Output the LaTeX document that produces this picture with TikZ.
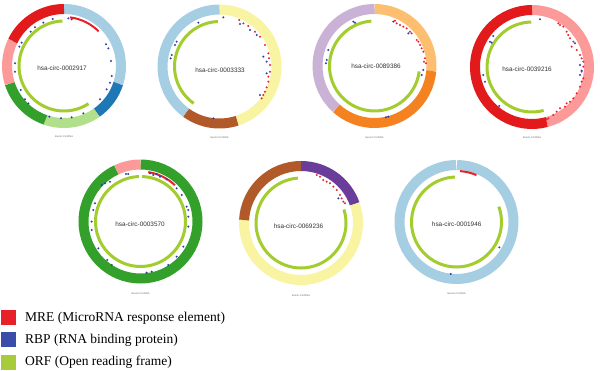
\documentclass[tikz,border=0pt]{standalone}
\usepackage{fontspec}
\setmainfont{Liberation Serif}
\newfontfamily\lsans{Liberation Sans}
\definecolor{lblue}{HTML}{A6CEE3}
\definecolor{dblue}{HTML}{1F78B4}
\definecolor{lgreen}{HTML}{B2DF8A}
\definecolor{dgreen}{HTML}{33A02C}
\definecolor{pinkc}{HTML}{FB9A99}
\definecolor{redc}{HTML}{E31A1C}
\definecolor{lorange}{HTML}{FDBF6F}
\definecolor{orangec}{HTML}{F58220}
\definecolor{lavender}{HTML}{CAB2D6}
\definecolor{purplec}{HTML}{6A3D9A}
\definecolor{yellowc}{HTML}{F8F4A2}
\definecolor{brownc}{HTML}{B15928}
\definecolor{orfc}{HTML}{A3CC2E}
\definecolor{mrec}{HTML}{E8202A}
\definecolor{rbpc}{HTML}{2B3DAE}
\definecolor{legred}{HTML}{E8202A}
\definecolor{legblue}{HTML}{3A4DA8}
\definecolor{leggreen}{HTML}{A6CB3B}
\newcommand\rseg[5]{\draw[ringseg,#5] (#1,#2) ++(#3:57) arc[start angle=#3,end angle=#4,radius=57];}
\newcommand\orfarc[4]{\draw[orf] (#1,#2) ++(#3:45) arc[start angle=#3,end angle=#4,radius=45];}
\newcommand\mrearc[5]{\draw[mre] (#1,#2) ++(#3:#5) arc[start angle=#3,end angle=#4,radius=#5];}
\newcommand\pdots[4]{\foreach \a/\b in {#4} \fill[#1] ({#2+\a/3},{#3+\b/3}) circle (1.15);}
\begin{document}
\begin{tikzpicture}[x=1pt,y=-1pt,
  ringseg/.style={line width=10pt},
  orf/.style={line width=3pt,draw=orfc},
  mre/.style={line width=2pt,draw=mrec},
  lbl/.style={font=\lsans\fontsize{6.4}{7}\selectfont,text=black!80,inner sep=0pt},
  sublbl/.style={font=\lsans\fontsize{2.5}{3}\selectfont,text=black!60,inner sep=0pt},
  legbox/.style={minimum width=15pt,minimum height=15pt,inner sep=0pt,anchor=west},
  legtxt/.style={font=\fontsize{13.5}{16}\selectfont,anchor=west,inner sep=0pt}]
\useasboundingbox (0,0) rectangle (600,371);
\fill[white] (0,0) rectangle (600,371);
% circle 1
\rseg{64}{66}{-90}{18}{lblue}
\rseg{64}{66}{18}{55}{dblue}
\rseg{64}{66}{55}{109}{lgreen}
\rseg{64}{66}{109}{162}{dgreen}
\rseg{64}{66}{162}{206}{pinkc}
\rseg{64}{66}{206}{270}{redc}
\orfarc{64}{66}{57}{268}
\mrearc{64}{66}{-83}{-45}{49}
\pdots{rbpc}{0}{0}{158/57,130/68,105/82,92/95,65/128,58/140,45/190,45/215,62/270,75/298,85/310,148/350,183/355,215/352,250/340,300/298,320/268,330/248,335/228,333/183,318/133,325/145,205/55,215/58}
\node[lbl] (c1) at (62,68) {hsa-circ-0002917};
\node[sublbl] (s1) at (64,137) {Exonic CircRNA};
% circle 2
\rseg{219.5}{66.5}{-90}{72}{yellowc}
\rseg{219.5}{66.5}{72}{126}{brownc}
\rseg{219.5}{66.5}{126}{270}{lblue}
\orfarc{219.5}{66.5}{125}{268}
\pdots{mrec}{150}{0}{268/60,280/70,295/78,315/95,330/110,345/135,355/160,357/175,360/195,360/215,355/230,355/245,350/262,345/275,340/285,335/295}
\pdots{rbpc}{150}{0}{220/52,145/68,270/72,300/90,320/105,350/185,350/220,330/285,80/125,75/135,65/165,62/175,190/355,340/170}
\node[lbl] (c2) at (220,70.5) {hsa-circ-0003333};
\node[sublbl] (s2) at (219.5,138) {Exonic CircRNA};
% circle 3
\rseg{374.5}{66}{-90}{5}{lorange}
\rseg{374.5}{66}{5}{132}{orangec}
\rseg{374.5}{66}{132}{270}{lavender}
\orfarc{374.5}{66}{7}{266}
\pdots{mrec}{300}{0}{285/62,290/70,300/75,310/80,320/85,330/95,335/100,350/120,355/125,360/135,365/145,370/155,375/175,372/185,378/190}
\pdots{rbpc}{300}{0}{165/68,160/65,280/65,325/100,370/210,365/225,85/150,80/180,78/190,258/352,265/350}
\node[lbl] (c3) at (376,66.7) {hsa-circ-0089386};
\node[sublbl] (s3) at (374.5,138) {Exonic CircRNA};
% circle 4
\rseg{532}{67}{-90}{75}{pinkc}
\rseg{532}{67}{75}{270}{redc}
\orfarc{532}{67}{75}{269}
\pdots{mrec}{450}{0}{325/70,330/75,340/80,350/95,355/105,360/115,370/125,365/140,380/150,390/165,395/175,400/185,400/200,395/215,400/235,395/245,390/260,380/280,370/295,360/305,350/310,345/320,330/325,320/335,310/345,295/355,290/358}
\pdots{rbpc}{450}{0}{270/58,130/108,120/125,125/128,100/225,105/245,148/318,390/195,395/212,390/225,375/130}
\node[lbl] (c4) at (527,69) {hsa-circ-0039216};
\node[sublbl] (s4) at (532,138) {Exonic CircRNA};
% circle 5
\rseg{140.5}{221.5}{-90}{245}{dgreen}
\rseg{140.5}{221.5}{245}{270}{pinkc}
\orfarc{140.5}{221.5}{-88}{268}
\mrearc{140.5}{221.5}{-81}{-46.5}{50}
\pdots{rbpc}{70}{150}{175/72,168/72,120/95,105/100,95/105,75/160,70/180,65/215,65/240,85/295,112/330,125/345,230/368,245/365,295/345,320/320,340/290,355/230,355/200,355/180,350/170,335/135,320/115,290/88,260/72,250/75,270/80,240/70}
\node[lbl] (c5) at (140,224) {hsa-circ-0003570};
\node[sublbl] (s5) at (140.5,293.5) {Exonic CircRNA};
% circle 6
\rseg{301}{223}{-90}{-19.5}{purplec}
\rseg{301}{223}{-19.5}{183}{yellowc}
\rseg{301}{223}{183}{270}{brownc}
\orfarc{301}{223}{-17.5}{266}
\pdots{mrec}{220}{150}{290/75,300/80,310/90,320/95,330/100,340/110,350/120,360/135,365/145,370/155,375/160}
\pdots{rbpc}{220}{150}{355/145}
\node[lbl] (c6) at (298.5,226) {hsa-circ-0069236};
\node[sublbl] (s6) at (301,295.5) {Exonic CircRNA};
% circle 7
\rseg{456.5}{222}{-89.5}{269.5}{lblue}
\orfarc{456.5}{222}{-20}{268}
\mrearc{456.5}{222}{-86}{-67}{51}
\pdots{rbpc}{370}{150}{388/292,242/372}
\node[lbl] (c7) at (456.7,224) {hsa-circ-0001946};
\node[sublbl] (s7) at (456.5,294) {Exonic CircRNA};
% legend
\node[legbox,fill=legred] (k1) at (1,317.5) {};
\node[legtxt] (t1) at (25,318) {MRE (MicroRNA response element)};
\node[legbox,fill=legblue] (k2) at (1,340) {};
\node[legtxt] (t2) at (25,340) {RBP (RNA binding protein)};
\node[legbox,fill=leggreen] (k3) at (1,362.5) {};
\node[legtxt] (t3) at (25,362) {ORF (Open reading frame)};
\end{tikzpicture}
\end{document}
